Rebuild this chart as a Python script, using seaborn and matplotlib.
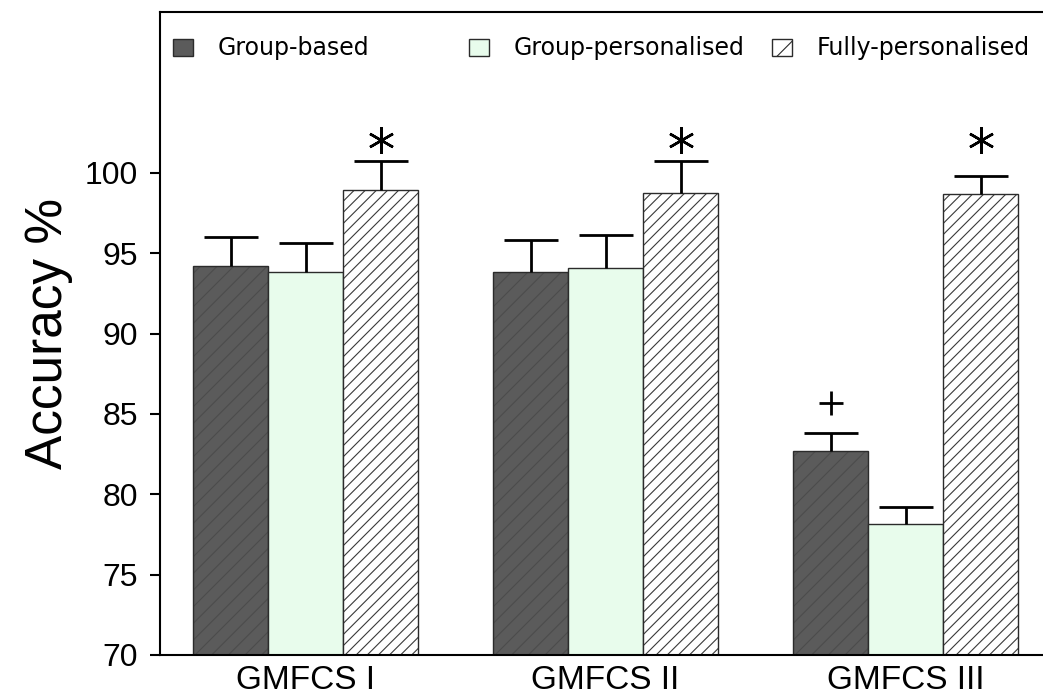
import numpy as np
import pandas as pd
import seaborn as sns
import matplotlib
matplotlib.use("Agg")
import matplotlib.pyplot as plt
from matplotlib.colors import to_rgba
from matplotlib.patches import Patch

# data
levels = ["GMFCS I", "GMFCS II", "GMFCS III"]
models = ["Group-based", "Group-personalised", "Fully-personalised"]
group_based = [94.2, 93.8, 82.7]
group_personalised = [93.8, 94.1, 78.15]
fully_personalised = [98.9, 98.75, 98.7]
err_group_based = [1.8, 2.0, 1.1]
err_group_personalised = [1.8, 2.0, 1.05]
err_fully_personalised = [1.8, 2.0, 1.1]
# significance marks: (level index, model index, symbol)
marks = [(0, 2, "*"), (1, 2, "*"), (2, 2, "*"), (2, 0, "+")]

colors = ["#5b5b5b", "#e8fcec", "#ffffff"]
hatches = ["//", "", "///"]
hatch_colors = ["#4c4c4c", "#2b2b2b", "#3a3a3a"]

sns.set_style("white")
plt.rcParams["font.family"] = ["Liberation Sans", "DejaVu Sans"]
plt.rcParams["hatch.linewidth"] = 0.8
for key in ["text.color", "axes.labelcolor", "xtick.color", "ytick.color"]:
    plt.rcParams[key] = "black"

df = pd.DataFrame({
    "level": levels * 3,
    "model": [m for m in models for _ in levels],
    "accuracy": group_based + group_personalised + fully_personalised,
})
errs = [err_group_based, err_group_personalised, err_fully_personalised]
means = [group_based, group_personalised, fully_personalised]

fig = plt.figure(figsize=(10.43, 6.95), dpi=100)
ax = fig.add_axes([160 / 1043, 1 - 655 / 695, 900 / 1043, (655 - 12) / 695])

sns.barplot(data=df, x="level", y="accuracy", hue="model", hue_order=models,
            order=levels, palette=colors, saturation=1, width=0.75, errorbar=None,
            edgecolor="#2b2b2b", linewidth=1, legend=False, ax=ax)

centers = []
for cont, hatch, hc, err, mean in zip(ax.containers, hatches, hatch_colors, errs, means):
    xs = []
    for bar in cont:
        bar.set_hatch(hatch)
        bar._hatch_color = to_rgba(hc)
        xs.append(bar.get_x() + bar.get_width() / 2)
    centers.append(xs)
    # one-sided (upper) error bars
    eb = ax.errorbar(xs, mean, yerr=[np.zeros(len(err)), err], fmt="none",
                     ecolor="black", elinewidth=2, capsize=19.5, capthick=2, zorder=3)
    eb[1][0].remove()

# significance markers above the error bars
top_star = max(m + e for m, e in zip(fully_personalised, err_fully_personalised)) + 1.3
for li, mi, sym in marks:
    x = centers[mi][li]
    if sym == "*":
        ax.plot(x, top_star, marker=(6, 2, 0), markersize=19, mew=1.8, color="black")
    else:
        y = means[mi][li] + errs[mi][li] + 1.9
        ax.plot(x, y, marker="+", markersize=17, mew=2, color="black")

ax.set_ylim(70, 110)
ax.set_xlim(-0.485, 2.515)
ax.set_yticks(np.arange(70, 101, 5))
ax.set_xlabel("")
ax.set_ylabel("Accuracy %", fontsize=37, labelpad=8)
ax.tick_params(axis="y", direction="out", length=7, width=1.5, labelsize=23, left=True, pad=9)
ax.tick_params(axis="x", length=0, labelsize=24, pad=7)
for side in ["left", "bottom", "top"]:
    ax.spines[side].set_linewidth(1.5)
    ax.spines[side].set_color("black")
ax.spines["right"].set_visible(False)

# legend: blank second slot spreads the first column like the original
handles = [Patch(facecolor=colors[0], edgecolor="#2b2b2b"),
           Patch(facecolor="none", edgecolor="none"),
           Patch(facecolor=colors[1], edgecolor="#2b2b2b"),
           Patch(facecolor=colors[2], edgecolor="#2b2b2b", hatch="/")]
labels = [models[0], "", models[1], models[2]]
ax.legend(handles, labels, ncol=4, loc="upper left", bbox_to_anchor=(0.014, 0.962),
          frameon=False, prop={"family": "DejaVu Sans", "size": 17},
          handlelength=0.85, handleheight=0.72,
          handletextpad=1.06, columnspacing=1.15, borderpad=0, borderaxespad=0)

fig.savefig("out.png", dpi=100)
